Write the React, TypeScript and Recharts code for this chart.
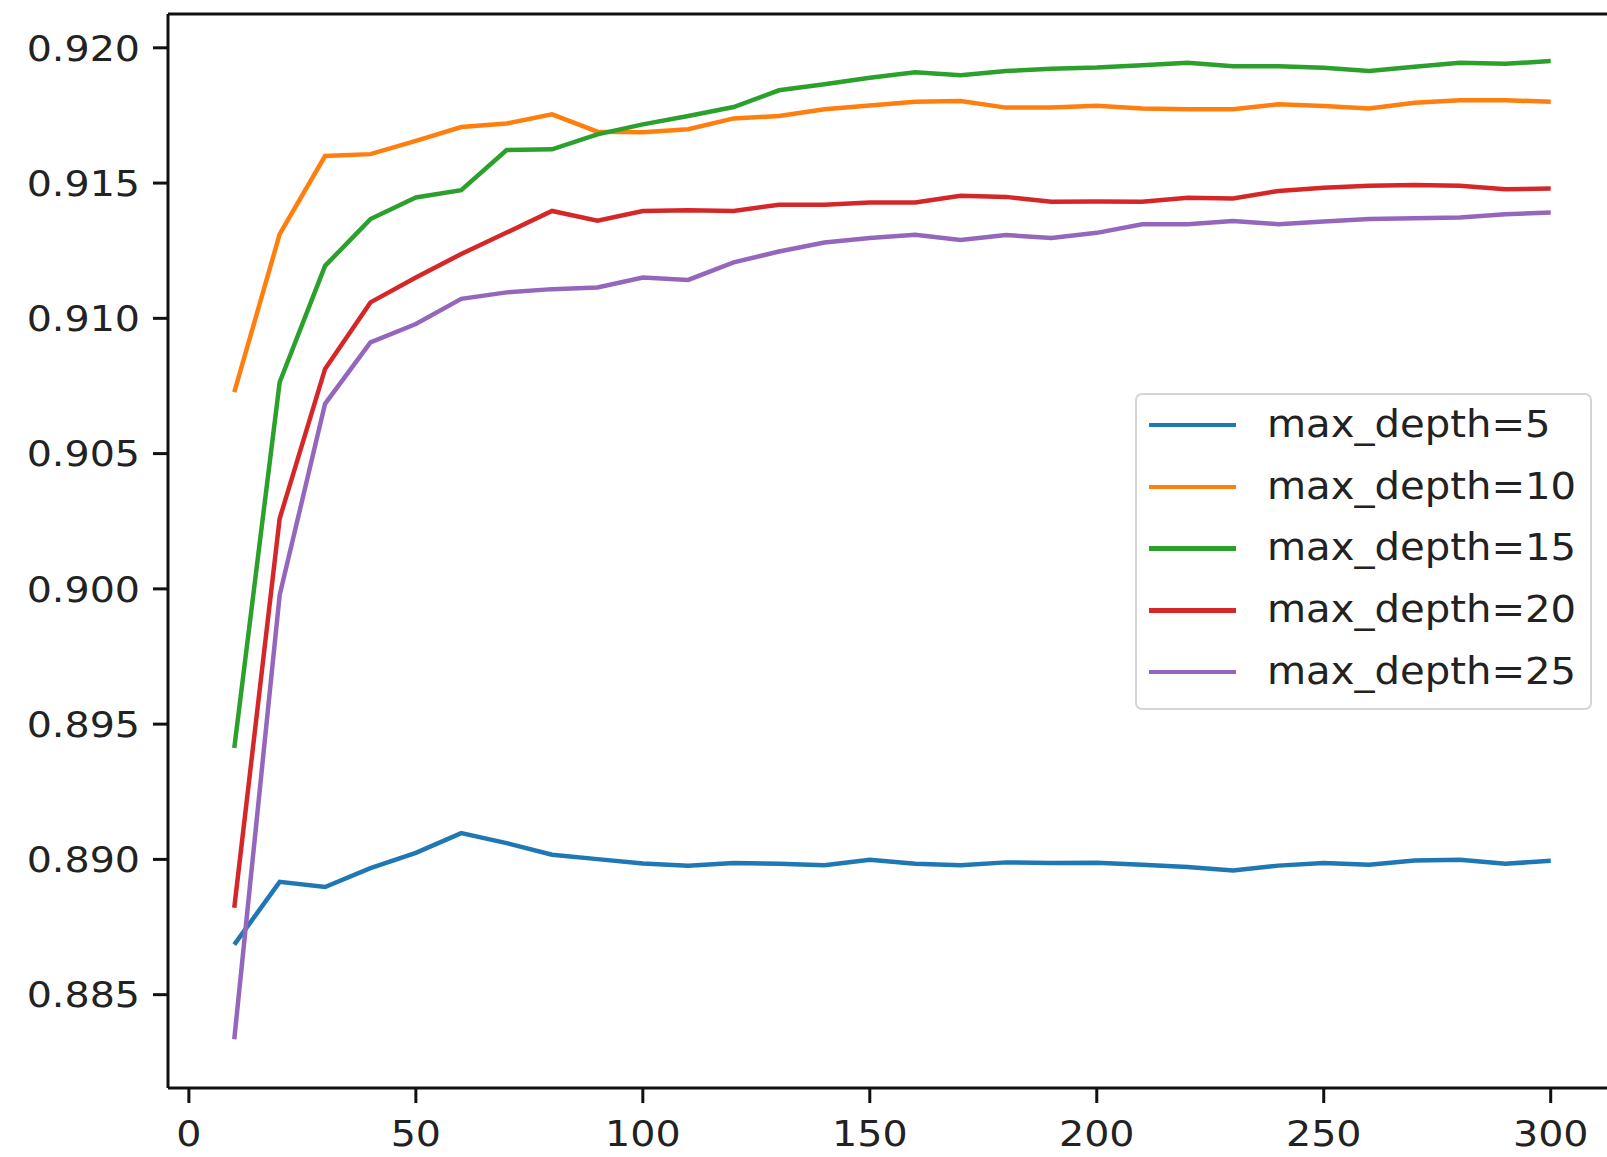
import { Legend, Line, LineChart, ReferenceLine, XAxis, YAxis } from "recharts";

const X_VALUES = [
  10, 20, 30, 40, 50, 60, 70, 80, 90, 100, 110, 120, 130, 140, 150, 160, 170, 180, 190, 200,
  210, 220, 230, 240, 250, 260, 270, 280, 290, 300,
];

const DEPTH_5 = [
  0.88685, 0.88917, 0.88898, 0.88968, 0.89024, 0.89097, 0.8906, 0.89017, 0.89001, 0.88985,
  0.88977, 0.88987, 0.88984, 0.88978, 0.88999, 0.88984, 0.88978, 0.88989, 0.88987, 0.88988,
  0.8898, 0.88972, 0.88959, 0.88977, 0.88987, 0.8898, 0.88996, 0.88999, 0.88984, 0.88995,
];
const DEPTH_10 = [
  0.90727, 0.91311, 0.916, 0.91607, 0.91656, 0.91707, 0.9172, 0.91754, 0.9169, 0.91688,
  0.91699, 0.91739, 0.91748, 0.91773, 0.91787, 0.91801, 0.91803, 0.91779, 0.91779, 0.91786,
  0.91776, 0.91773, 0.91773, 0.91791, 0.91785, 0.91776, 0.91797, 0.91806, 0.91806, 0.91801,
];
const DEPTH_15 = [
  0.89412, 0.90764, 0.91194, 0.91367, 0.91447, 0.91474, 0.91622, 0.91625, 0.9168, 0.91717,
  0.91748, 0.91781, 0.91843, 0.91865, 0.91889, 0.9191, 0.91899, 0.91914, 0.91923, 0.91927,
  0.91936, 0.91945, 0.91932, 0.91932, 0.91926, 0.91914, 0.9193, 0.91945, 0.91941, 0.91951,
];
const DEPTH_20 = [
  0.88821, 0.9026, 0.90813, 0.91059, 0.91151, 0.91238, 0.91317, 0.91397, 0.91361, 0.91397,
  0.914, 0.91397, 0.9142, 0.9142, 0.91428, 0.91428, 0.91453, 0.91449, 0.91431, 0.91432,
  0.91431, 0.91446, 0.91443, 0.91471, 0.91483, 0.9149, 0.91493, 0.9149, 0.91477, 0.9148,
];
const DEPTH_25 = [
  0.88335, 0.89977, 0.90684, 0.90911, 0.90979, 0.91072, 0.91096, 0.91108, 0.91114, 0.91151,
  0.91142, 0.91207, 0.91247, 0.9128, 0.91297, 0.91309, 0.9129, 0.91308, 0.91297, 0.91316,
  0.91348, 0.91348, 0.9136, 0.91348, 0.91358, 0.91367, 0.9137, 0.91373, 0.91385, 0.91391,
];

const X_TICKS = [0, 50, 100, 150, 200, 250, 300];
const Y_TICKS = [0.885, 0.89, 0.895, 0.9, 0.905, 0.91, 0.915, 0.92];
const X_DOMAIN: [number, number] = [-4.6, 312.4];
const Y_DOMAIN: [number, number] = [0.88155, 0.92125];

const SERIES = [
  { key: "d5", name: "max_depth=5", color: "#1f77b4", values: DEPTH_5 },
  { key: "d10", name: "max_depth=10", color: "#ff7f0e", values: DEPTH_10 },
  { key: "d15", name: "max_depth=15", color: "#2ca02c", values: DEPTH_15 },
  { key: "d20", name: "max_depth=20", color: "#d62728", values: DEPTH_20 },
  { key: "d25", name: "max_depth=25", color: "#9467bd", values: DEPTH_25 },
];

const data = X_VALUES.map((x, i) => {
  const row: Record<string, number> = { x };
  SERIES.forEach((s) => {
    row[s.key] = s.values[i];
  });
  return row;
});

const FONT = "'DejaVu Sans', sans-serif";
const TEXT_COLOR = "#222";
const STRETCH = 1.1; // the reference text is a little wider than plain DejaVu
const axisLine = { stroke: "#111", strokeWidth: 3 };

function XTick({ x, y, payload }: { x?: number; y?: number; payload?: { value: number } }) {
  return (
    <text
      transform={`translate(${x},${y}) scale(${STRETCH},1)`}
      textAnchor="middle"
      dy="0.71em"
      fontSize={36}
      fontFamily={FONT}
      fill={TEXT_COLOR}
    >
      {payload?.value}
    </text>
  );
}

function YTick({ x, y, payload }: { x?: number; y?: number; payload?: { value: number } }) {
  return (
    <text
      transform={`translate(${x},${y}) scale(${STRETCH},1)`}
      textAnchor="end"
      dy="0.355em"
      fontSize={36}
      fontFamily={FONT}
      fill={TEXT_COLOR}
    >
      {payload?.value.toFixed(3)}
    </text>
  );
}

// matplotlib-style legend box, built from our own series list so order stays 5,10,15...
function LegendBox() {
  return (
    <div
      style={{
        position: "relative",
        width: 453,
        height: 313,
        background: "rgba(255,255,255,0.85)",
        border: "2px solid #d4d4d4",
        borderRadius: 7,
        fontFamily: FONT,
      }}
    >
      {SERIES.map((s, i) => (
        <div
          key={s.key}
          style={{
            position: "absolute",
            left: 0,
            top: 30 + i * 61.8 - 25,
            height: 50,
            display: "flex",
            alignItems: "center",
          }}
        >
          <div style={{ width: 87, height: 4.5, background: s.color, marginLeft: 12 }} />
          <span
            style={{
              display: "inline-block",
              marginLeft: 31,
              fontSize: 36.5,
              lineHeight: 1,
              color: TEXT_COLOR,
              whiteSpace: "nowrap",
              transform: `scaleX(${STRETCH})`,
              transformOrigin: "left center",
            }}
          >
            {s.name}
          </span>
        </div>
      ))}
    </div>
  );
}

export default function App() {
  return (
    <div style={{ position: "absolute", left: 0, top: 0, background: "#fff" }}>
      <LineChart
        width={1607}
        height={1157}
        data={data}
        margin={{ top: 14, right: 0, bottom: 0, left: 0 }}
      >
        <XAxis
          dataKey="x"
          type="number"
          domain={X_DOMAIN}
          allowDataOverflow
          ticks={X_TICKS}
          height={69}
          tickSize={15}
          tickMargin={17}
          tick={<XTick />}
          axisLine={axisLine}
          tickLine={axisLine}
        />
        <YAxis
          type="number"
          domain={Y_DOMAIN}
          allowDataOverflow
          ticks={Y_TICKS}
          width={168}
          tickSize={15}
          tickMargin={13}
          tick={<YTick />}
          axisLine={axisLine}
          tickLine={axisLine}
        />
        {/* top spine */}
        <ReferenceLine y={Y_DOMAIN[1]} stroke="#111" strokeWidth={3} ifOverflow="visible" />
        {SERIES.map((s) => (
          <Line
            key={s.key}
            dataKey={s.key}
            name={s.name}
            stroke={s.color}
            strokeWidth={4.5}
            dot={false}
            activeDot={false}
            isAnimationActive={false}
          />
        ))}
        <Legend
          layout="vertical"
          align="center"
          verticalAlign="middle"
          content={() => <LegendBox />}
          wrapperStyle={{ position: "absolute", left: 1135, top: 393, width: "auto" }}
        />
      </LineChart>
    </div>
  );
}
